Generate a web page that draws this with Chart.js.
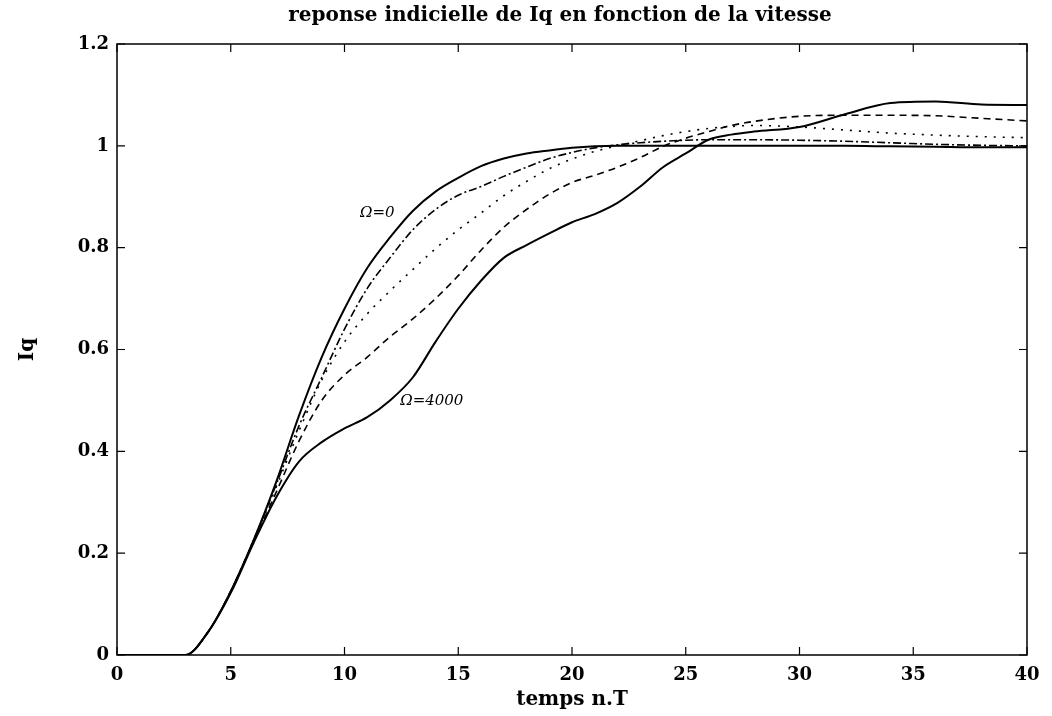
<!DOCTYPE html>
<html lang="fr">
<head>
<meta charset="UTF-8">
<title>reponse indicielle de Iq</title>
<script src="https://cdn.jsdelivr.net/npm/chart.js"></script>
<style>
  html, body { margin: 0; padding: 0; background: #fff; }
  canvas { display: block; }
</style>
</head>
<body>
<canvas id="graphique" width="1052" height="716"></canvas>
<script>
// temps (n.T) et reponses Iq
const temps = [0,3,4,5,6,7,8,9,10,11,12,13,14,15,16,17,18,19,20,21,22,23,24,25,26,27,28,30,32,34,36,38,40];
const omega0 = [0,0,0.045,0.125,0.225,0.34,0.47,0.585,0.68,0.76,0.82,0.872,0.91,0.937,0.96,0.975,0.985,0.991,0.996,0.999,1.0,1.0,1.0,1.0,1.0,1.0,1.0,1.0,1.0,0.999,0.998,0.997,0.997];
const courbe2 = [0,0,0.045,0.125,0.225,0.335,0.45,0.545,0.64,0.72,0.78,0.835,0.875,0.903,0.92,0.94,0.958,0.975,0.987,0.996,1.002,1.006,1.009,1.011,1.012,1.012,1.012,1.011,1.009,1.006,1.003,1.001,1.0];
const courbe3 = [0,0,0.045,0.125,0.225,0.33,0.44,0.54,0.615,0.67,0.715,0.757,0.798,0.835,0.868,0.902,0.93,0.955,0.974,0.989,1.0,1.01,1.02,1.028,1.034,1.038,1.04,1.037,1.031,1.025,1.021,1.018,1.016];
const courbe4 = [0,0,0.045,0.125,0.222,0.32,0.42,0.5,0.55,0.585,0.625,0.66,0.7,0.745,0.795,0.84,0.875,0.905,0.928,0.942,0.958,0.977,0.999,1.015,1.028,1.04,1.048,1.058,1.06,1.06,1.059,1.054,1.049];
const omega4000 = [0,0,0.045,0.122,0.22,0.31,0.38,0.418,0.445,0.467,0.5,0.545,0.615,0.68,0.735,0.78,0.805,0.828,0.85,0.866,0.888,0.92,0.958,0.985,1.012,1.022,1.028,1.037,1.062,1.084,1.087,1.081,1.08];
const xTicks = [0,5,10,15,20,25,30,35,40];
const yTicks = [0,0.2,0.4,0.6,0.8,1,1.2];

const police = '"DejaVu Serif", serif';

function points(valeurs) {
  return temps.map((t, i) => ({x: t, y: valeurs[i]}));
}

function serie(label, valeurs, dash, largeur) {
  return {
    label: label,
    data: points(valeurs),
    borderColor: '#000',
    borderWidth: largeur,
    borderDash: dash,
    pointRadius: 0,
    fill: false,
    cubicInterpolationMode: 'monotone'
  };
}

// titre, cadre, graduations interieures et annotations
const decor = {
  id: 'decor',
  afterDraw(chart) {
    const ctx = chart.ctx;
    const a = chart.chartArea;
    const sx = chart.scales.x, sy = chart.scales.y;
    ctx.save();
    ctx.strokeStyle = '#000';
    ctx.lineWidth = 1.5;
    ctx.strokeRect(a.left, a.top, a.right - a.left, a.bottom - a.top);
    ctx.lineWidth = 1.2;
    ctx.beginPath();
    xTicks.forEach(v => {
      const px = sx.getPixelForValue(v);
      ctx.moveTo(px, a.bottom); ctx.lineTo(px, a.bottom - 8);
      ctx.moveTo(px, a.top); ctx.lineTo(px, a.top + 8);
    });
    yTicks.forEach(v => {
      const py = sy.getPixelForValue(v);
      ctx.moveTo(a.left, py); ctx.lineTo(a.left + 8, py);
      ctx.moveTo(a.right, py); ctx.lineTo(a.right - 8, py);
    });
    ctx.stroke();

    ctx.fillStyle = '#000';
    ctx.font = 'bold 20px ' + police;
    ctx.textAlign = 'center';
    ctx.textBaseline = 'middle';
    ctx.fillText('reponse indicielle de Iq en fonction de la vitesse', 560, 16);

    ctx.font = 'italic 15px ' + police;
    ctx.textAlign = 'right';
    ctx.fillText('\u03A9=0', sx.getPixelForValue(12.2), sy.getPixelForValue(0.868));
    ctx.textAlign = 'left';
    ctx.fillText('\u03A9=4000', sx.getPixelForValue(12.45), sy.getPixelForValue(0.498));
    ctx.restore();
  }
};

new Chart(document.getElementById('graphique').getContext('2d'), {
  type: 'line',
  data: {
    datasets: [
      serie('\u03A9=0', omega0, [], 2),
      serie('courbe 2', courbe2, [8, 3, 2, 3], 1.6),
      serie('courbe 3', courbe3, [2, 7], 1.6),
      serie('courbe 4', courbe4, [7, 5], 1.6),
      serie('\u03A9=4000', omega4000, [], 2)
    ]
  },
  options: {
    responsive: false,
    animation: false,
    devicePixelRatio: 1,
    layout: { padding: { left: 0, right: 25, top: 44, bottom: 0 } },
    plugins: { legend: { display: false }, tooltip: { enabled: false } },
    scales: {
      x: {
        type: 'linear',
        min: 0, max: 40,
        afterFit(s) { s.height = 61; },
        afterBuildTicks(s) { s.ticks = xTicks.map(v => ({value: v})); },
        grid: { display: false, drawTicks: false },
        border: { display: false },
        ticks: { color: '#000', padding: 10, maxRotation: 0, font: { family: police, size: 18, weight: 'bold' } },
        title: { display: true, text: 'temps n.T', color: '#000', padding: { top: 0, bottom: 4 }, font: { family: police, size: 20, weight: 'bold' } }
      },
      y: {
        min: 0, max: 1.2,
        afterFit(s) { s.width = 117; },
        afterBuildTicks(s) { s.ticks = yTicks.map(v => ({value: v})); },
        grid: { display: false, drawTicks: false },
        border: { display: false },
        ticks: { color: '#000', padding: 8, font: { family: police, size: 18, weight: 'bold' },
          callback: v => String(Math.round(v * 10) / 10) },
        title: { display: true, text: 'Iq', color: '#000', padding: { top: 16, bottom: 0 }, font: { family: police, size: 20, weight: 'bold' } }
      }
    }
  },
  plugins: [decor]
});
</script>
</body>
</html>
